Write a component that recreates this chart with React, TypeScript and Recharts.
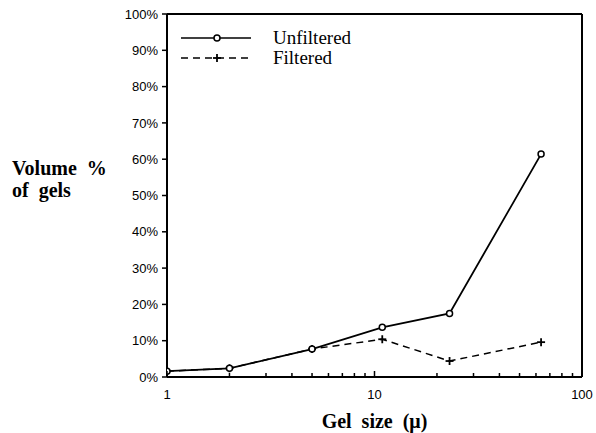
import { LineChart, Line, XAxis, YAxis, ReferenceLine } from "recharts";

// values (x: gel size in microns, y: volume %)
const gelSize = [1, 2, 5, 10.9, 23, 63.5];
const unfiltered = [1.6, 2.4, 7.7, 13.7, 17.5, 61.4];
const filtered = [1.6, 2.4, 7.7, 10.4, 4.4, 9.6];

const xTicks = [1, 2, 3, 4, 5, 6, 7, 8, 9, 10, 20, 30, 40, 50, 60, 70, 80, 90, 100];
const xLabels = [1, 10, 100];
const yTicks = [0, 10, 20, 30, 40, 50, 60, 70, 80, 90, 100];

const data = gelSize.map((g, i) => ({
  size: g,
  unfiltered: unfiltered[i],
  filtered: filtered[i],
}));

const SANS = "'Liberation Sans', Arial, sans-serif";
const SERIF = "'Liberation Serif', 'Times New Roman', serif";

function XTick(props: any) {
  const { x, y, payload } = props;
  const major = xLabels.includes(payload.value);
  return (
    <g>
      <line x1={x} x2={x} y1={y} y2={y - (major ? 6 : 4)} stroke="#000" strokeWidth={1.5} />
      {major && (
        <text x={x} y={y + 22} textAnchor="middle" fontFamily={SANS} fontSize={13} fill="#000">
          {payload.value}
        </text>
      )}
    </g>
  );
}

function PlusDot(props: any) {
  const { cx, cy } = props;
  if (cx == null || cy == null) return null;
  return (
    <g>
      <line x1={cx - 4} x2={cx + 4} y1={cy} y2={cy} stroke="#000" strokeWidth={1.8} />
      <line x1={cx} x2={cx} y1={cy - 4} y2={cy + 4} stroke="#000" strokeWidth={1.8} />
    </g>
  );
}

function LegendBox() {
  return (
    <div
      style={{
        position: "absolute",
        left: 181,
        top: 28,
        fontFamily: SERIF,
        fontSize: 19,
        color: "#000",
        lineHeight: "20px",
      }}
    >
      <div style={{ display: "flex", alignItems: "center" }}>
        <svg width={70} height={12}>
          <line x1={0} x2={70} y1={6} y2={6} stroke="#000" strokeWidth={1.5} />
          <circle cx={36} cy={6} r={3} fill="#fff" stroke="#000" strokeWidth={1.5} />
        </svg>
        <span style={{ marginLeft: 22 }}>Unfiltered</span>
      </div>
      <div style={{ display: "flex", alignItems: "center" }}>
        <svg width={70} height={12}>
          <line x1={0} x2={70} y1={6} y2={6} stroke="#000" strokeWidth={1.5} strokeDasharray="7 5" />
          <line x1={32} x2={40} y1={6} y2={6} stroke="#000" strokeWidth={1.8} />
          <line x1={36} x2={36} y1={2} y2={10} stroke="#000" strokeWidth={1.8} />
        </svg>
        <span style={{ marginLeft: 22 }}>Filtered</span>
      </div>
    </div>
  );
}

export default function App() {
  return (
    <div style={{ position: "absolute", left: 0, top: 0, width: 596, height: 433, background: "#fff" }}>
      <LineChart
        width={596}
        height={433}
        data={data}
        margin={{ top: 14, right: 14, left: 0, bottom: 0 }}
      >
        <XAxis
          dataKey="size"
          type="number"
          scale="log"
          domain={[1, 100]}
          ticks={xTicks}
          interval={0}
          allowDataOverflow
          height={56}
          tickSize={0}
          tickMargin={0}
          tick={<XTick />}
          axisLine={{ stroke: "#000", strokeWidth: 2 }}
        />
        <YAxis
          type="number"
          domain={[0, 100]}
          ticks={yTicks}
          interval={0}
          width={167}
          tickFormatter={(v: number) => `${v}%`}
          tickSize={5}
          tickMargin={4}
          tickLine={{ stroke: "#000", strokeWidth: 1.5 }}
          axisLine={{ stroke: "#000", strokeWidth: 2 }}
          tick={{ fill: "#000", fontSize: 13, fontFamily: SANS }}
        />
        <ReferenceLine y={100} stroke="#000" strokeWidth={2} />
        <ReferenceLine x={100} stroke="#000" strokeWidth={2} />
        <Line
          dataKey="filtered"
          stroke="#000"
          strokeWidth={1.5}
          strokeDasharray="7 5"
          dot={<PlusDot />}
          isAnimationActive={false}
        />
        <Line
          dataKey="unfiltered"
          stroke="#000"
          strokeWidth={1.8}
          dot={{ r: 3, fill: "#fff", stroke: "#000", strokeWidth: 1.5 }}
          isAnimationActive={false}
        />
      </LineChart>
      <LegendBox />
      <div
        style={{
          position: "absolute",
          left: 12,
          top: 157,
          fontFamily: SERIF,
          fontWeight: "bold",
          fontSize: 20,
          lineHeight: "22px",
          whiteSpace: "pre",
          color: "#000",
        }}
      >
        {"Volume  %\nof  gels"}
      </div>
      <div
        style={{
          position: "absolute",
          left: 167,
          width: 415,
          top: 410,
          textAlign: "center",
          fontFamily: SERIF,
          fontWeight: "bold",
          fontSize: 20,
          whiteSpace: "pre",
          color: "#000",
        }}
      >
        {"Gel  size  (μ)"}
      </div>
    </div>
  );
}
